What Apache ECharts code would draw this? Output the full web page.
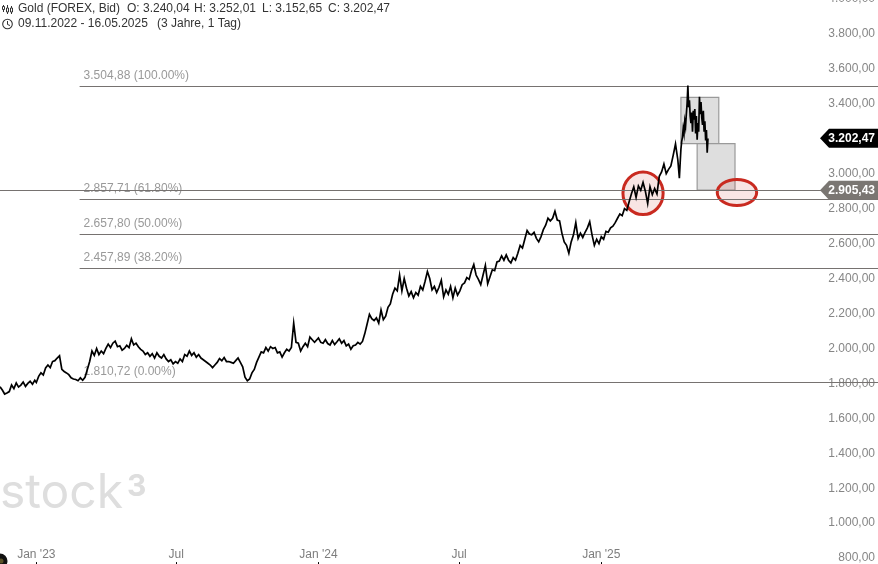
<!DOCTYPE html>
<html><head><meta charset="utf-8">
<style>html,body{margin:0;padding:0;background:#fff}#c{width:878px;height:564px}</style>
<script src="https://cdn.jsdelivr.net/npm/echarts@6/dist/echarts.min.js"></script>
</head><body><div id="c"></div>
<script>
const start2022 = [2022, 10, 15];
const prices2022 = [1781,1762,1739,1745,1753,1791,1770,1802,1779,1790,1808,1783,1800,1812,1795,1818];
const start2023 = [2023, 0, 1];
const prices2023 = [1805,1840,1860,1848,1888,1905,1890,1925,1930,1945,1958,1880,1868,1860,1850,1832,1825,1822,1815,1832,
1818,1835,1880,1925,1985,1960,2000,1965,1985,1970,2000,2025,2005,2030,2042,2010,2015,1990,2000,2018,
2005,2055,2020,2030,2010,1995,1985,1965,1975,1955,1970,1945,1975,1955,1945,1965,1940,1925,1935,1912,
1925,1915,1940,1925,1965,1955,1985,1960,1975,1950,1965,1945,1935,1925,1915,1905,1890,1905,1920,1942,
1930,1948,1925,1925,1920,1915,1930,1945,1920,1895,1835,1815,1825,1860,1880,1920,1950,1980,1975,2005,
1985,2010,2000,2005,1975,1980,1950,1975,1995,1985,2005,2145,2035,2030,1985,2010,2030,2010,2065,2050,2035];
const start2024 = [2024, 0, 1];
const prices2024 = [2060,2035,2030,2050,2028,2020,2045,2022,2038,2055,2030,2045,2015,2025,1995,2015,2020,2035,2025,2040,
2085,2140,2195,2170,2160,2175,2145,2220,2165,2185,2235,2255,2310,2345,2330,2420,2330,2400,2345,2300,
2325,2290,2320,2305,2355,2335,2385,2440,2400,2335,2355,2320,2350,2390,2295,2335,2310,2355,2290,2345,
2305,2330,2365,2375,2405,2395,2445,2480,2420,2395,2365,2420,2475,2370,2410,2450,2445,2495,2500,2530,
2505,2535,2505,2490,2520,2505,2545,2590,2575,2625,2675,2655,2650,2665,2630,2610,2640,2680,2705,2745,
2730,2745,2785,2735,2730,2660,2610,2590,2545,2610,2650,2720,2630,2660,2635,2665,2690,2725,2650,2590,2625,2600];
const start2025 = [2025, 0, 1];
const prices2025 = [2640,2625,2670,2665,2690,2700,2720,2745,2770,2760,2800,2790,2840,2885,2925,2865,2930,2905,2950,2900,
2830,2925,2880,2915,2885,2985,3010,3055,3000,3025,3045,3105,3170,3080];
const startPeak = [2025, 3, 12];
const pricesPeak = [2975,3060,3140,3185,3210,3260,3230,3300,3270,3340,3400,3505,3380,3420,3330,3290,3350,3240,3360,3310,
3370,3230,3330,3195,3290,3240,3440,3340,3410,3320,3280,3360,3240,3300,3190,3250,3120,3202.47];

const yMin = 800, yMax = 4000, yStep = 200;
const xMin = '2022-11-15', xMax = '2025-12-25';
const tickDates = ['2023-01-01','2023-07-01','2024-01-01','2024-07-01','2025-01-01'];
const tickLabels = ["Jan '23",'Jul',"Jan '24",'Jul',"Jan '25"];

const fibStart = '2023-02-26';
const fibValues = [3504.88, 2857.71, 2657.80, 2457.89, 1810.72];
const fibLabels = ['3.504,88 (100.00%)','2.857,71 (61.80%)','2.657,80 (50.00%)','2.457,89 (38.20%)','1.810,72 (0.00%)'];
const currentLevel = 2905.43, lastClose = 3202.47;
const tagLabels = ['3.202,47','2.905,43'];
const tagValues = [lastClose, currentLevel];
const tagColors = ['#000000','#7a7672'];

const boxStarts = ['2025-04-14','2025-05-05'];
const boxEnds = ['2025-06-02','2025-06-23'];
const boxTops = [3437, 3172];
const boxBottoms = [3172, 2906];

const ringStarts = ['2025-01-29','2025-05-31'];
const ringEnds = ['2025-03-22','2025-07-21'];
const ringTops = [3010, 2967];
const ringBottoms = [2766, 2818];

const headerTop = ['Gold (FOREX, Bid)','O: 3.240,04','H: 3.252,01','L: 3.152,65','C: 3.202,47'];
const headerTopX = [18,127,194,262,328];
const headerBottom = ['09.11.2022 - 16.05.2025','(3 Jahre, 1 Tag)'];
const headerBottomX = [18,157];

const ts = s => new Date(s + 'T00:00:00').getTime();
const seg = (st, arr, step) => arr.map((v, i) => [new Date(st[0], st[1], st[2] + step * i).getTime(), v]);
const lineData = [].concat(seg(start2022, prices2022, 3), seg(start2023, prices2023, 3), seg(start2024, prices2024, 3), seg(start2025, prices2025, 3), seg(startPeak, pricesPeak, 1));
const tickTs = tickDates.map(ts);
const fmtPrice = v => { const s = v.toFixed(2).split('.'); return s[0].replace(/\B(?=(\d{3})+$)/g, '.') + ',' + s[1]; };
const crisp = y => Math.round(y) + 0.5;
const FONT = '"Liberation Sans", Arial, sans-serif';
const lineCol = '#767270';

const chart = echarts.init(document.getElementById('c'), null, {renderer: 'canvas'});
const txt = (text, x, y, fill, size, weight, align) => ({type: 'text', silent: true, style: {text, x, y, fill, font: `${weight || 'normal'} ${size || 12}px ${FONT}`, textAlign: align || 'left', textVerticalAlign: 'middle'}});

const hdr = [];
headerTop.forEach((t, i) => hdr.push({type: 'text', left: headerTopX[i], top: 3, style: {text: t, fill: '#333', font: `12px ${FONT}`}}));
headerBottom.forEach((t, i) => hdr.push({type: 'text', left: headerBottomX[i], top: 18, style: {text: t, fill: '#333', font: `12px ${FONT}`}}));

const icon = [
  {type:'line',shape:{x1:3.5,y1:5,x2:3.5,y2:12},style:{stroke:'#333',lineWidth:1}},
  {type:'rect',shape:{x:2.5,y:6.5,width:2,height:3},style:{fill:'#fff',stroke:'#333',lineWidth:1}},
  {type:'line',shape:{x1:7.5,y1:5,x2:7.5,y2:14},style:{stroke:'#333',lineWidth:1}},
  {type:'rect',shape:{x:6.5,y:8,width:2,height:4},style:{fill:'#fff',stroke:'#333',lineWidth:1}},
  {type:'line',shape:{x1:11.5,y1:6,x2:11.5,y2:14},style:{stroke:'#333',lineWidth:1}},
  {type:'rect',shape:{x:10.5,y:8,width:2,height:4},style:{fill:'#fff',stroke:'#333',lineWidth:1}},
  {type:'circle',shape:{cx:7.5,cy:24,r:4.8},style:{fill:'none',stroke:'#333',lineWidth:1.1}},
  {type:'polyline',shape:{points:[[7.5,21],[7.5,24.5],[10,25.5]]},style:{fill:'none',stroke:'#333',lineWidth:1}},
  {type:'circle',shape:{cx:0,cy:561,r:7.5},style:{fill:'#111'}},
  {type:'circle',shape:{cx:1,cy:561,r:2.5},style:{fill:'#5a5228'}},
  {type:'text',left:0,top:470,style:{text:'stock',fill:'#dedede',font:'400 48px Inter, sans-serif'}},
  {type:'text',left:127,top:472,style:{text:'3',fill:'#dedede',font:'700 30px Inter, sans-serif'}}
];
icon.forEach(g => g.silent = true);

chart.setOption({
  animation: false,
  backgroundColor: '#fff',
  grid: {left: 0, right: 0, top: -1, height: 559.1, containLabel: false, outerBoundsMode: 'none'},
  xAxis: {
    type: 'value', min: ts(xMin), max: ts(xMax), offset: 6,
    axisLine: {show: false}, splitLine: {show: false}, minorTick: {show: false},
    axisTick: {show: true, inside: true, length: 2, customValues: tickTs, lineStyle: {color: '#000'}},
    axisLabel: {show: true, inside: true, margin: 3, customValues: tickTs, hideOverlap: false, color: '#7d7d7d', fontFamily: FONT, fontSize: 12,
      formatter: v => tickLabels[tickTs.indexOf(+v)] || ''}
  },
  yAxis: {
    type: 'value', position: 'right', min: yMin, max: yMax, interval: yStep,
    axisLine: {show: false}, axisTick: {show: false}, splitLine: {show: false},
    axisLabel: {inside: true, margin: 3, color: '#868686', fontFamily: FONT, fontSize: 12, padding: [0, 0, 6, 0], formatter: v => fmtPrice(v)}
  },
  graphic: hdr.concat(icon),
  series: [
    {type: 'custom', name: 'boxes', z: 1, silent: true, data: boxStarts.map((d, i) => [ts(d), boxTops[i]]),
      renderItem: (p, api) => {
        const i = p.dataIndex, a = api.coord([ts(boxStarts[i]), boxTops[i]]), b = api.coord([ts(boxEnds[i]), boxBottoms[i]]);
        return {type: 'rect', shape: {x: a[0], y: a[1], width: b[0] - a[0], height: b[1] - a[1]}, style: {fill: '#dedede', stroke: '#9a9a9a', lineWidth: 1.2}};
      }},
    {type: 'custom', name: 'rings', z: 1, silent: true, data: ringStarts.map((d, i) => [ts(d), ringTops[i]]),
      renderItem: (p, api) => {
        const i = p.dataIndex, a = api.coord([ts(ringStarts[i]), ringTops[i]]), b = api.coord([ts(ringEnds[i]), ringBottoms[i]]);
        return {type: 'ellipse', shape: {cx: (a[0] + b[0]) / 2, cy: (a[1] + b[1]) / 2, rx: (b[0] - a[0]) / 2, ry: (b[1] - a[1]) / 2},
          style: {fill: 'rgba(200,40,30,0.12)', stroke: '#c92a20', lineWidth: 3}};
      }},
    {type: 'custom', name: 'fib', z: 1, silent: true, data: fibValues.map(v => [ts(fibStart), v]),
      renderItem: (p, api) => {
        const i = p.dataIndex, a = api.coord([ts(fibStart), fibValues[i]]), y = crisp(a[1]);
        return {type: 'group', children: [
          {type: 'line', shape: {x1: a[0], y1: y, x2: 878, y2: y}, style: {stroke: lineCol, lineWidth: 1.2}},
          txt(fibLabels[i], a[0] + 4, y - 11, '#999', 12)
        ]};
      }},
    {type: 'custom', name: 'level', z: 1, silent: true, data: [[ts(xMin), currentLevel]],
      renderItem: (p, api) => {
        const y = crisp(api.coord([ts(xMin), currentLevel])[1]);
        return {type: 'line', shape: {x1: 0, y1: y, x2: 878, y2: y}, style: {stroke: lineCol, lineWidth: 1.2}};
      }},
    {type: 'line', name: 'Gold', z: 2, data: lineData, showSymbol: false, symbol: 'none', smooth: false, silent: true,
      lineStyle: {color: '#000', width: 1.7, join: 'miter'}},
    {type: 'custom', name: 'tags', z: 5, silent: true, data: tagValues.map(v => [ts(xMax), v]),
      renderItem: (p, api) => {
        const i = p.dataIndex, y = api.coord([ts(xMax), tagValues[i]])[1];
        return {type: 'group', children: [
          {type: 'polygon', shape: {points: [[820, y], [829, y - 9.5], [878, y - 9.5], [878, y + 9.5], [829, y + 9.5]]}, style: {fill: tagColors[i]}},
          txt(tagLabels[i], 875, y, '#fff', 12, 'bold', 'right')
        ]};
      }}
  ]
});
</script></body></html>
